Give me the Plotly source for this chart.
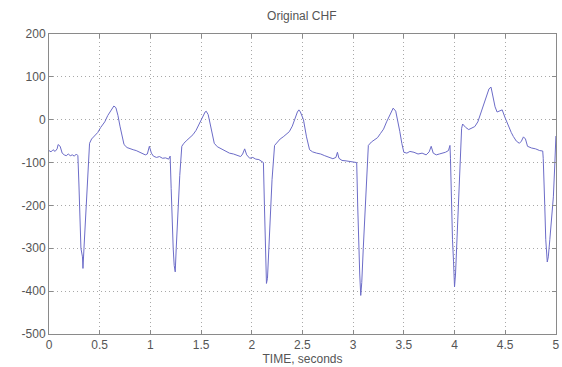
import plotly.graph_objects as go

# Time (s) and amplitude
time_s = [
    0.00, 0.02, 0.04, 0.06, 0.08, 0.09, 0.11, 0.13, 0.15, 0.17, 0.19, 0.21, 0.23, 0.25, 0.27, 0.285,
    0.295, 0.305, 0.315, 0.33, 0.335, 0.345, 0.355, 0.37, 0.385, 0.40, 0.42, 0.45, 0.48, 0.51, 0.55,
    0.58, 0.61, 0.64, 0.66, 0.68, 0.70, 0.72, 0.74, 0.77, 0.80, 0.83, 0.86, 0.89, 0.92, 0.95, 0.97,
    0.99, 1.01, 1.03, 1.06, 1.09, 1.12, 1.15, 1.18, 1.195, 1.205, 1.215, 1.225, 1.235, 1.245, 1.255,
    1.27, 1.29, 1.31, 1.33, 1.36, 1.39, 1.42, 1.45, 1.48, 1.51, 1.54, 1.55, 1.57, 1.59, 1.61, 1.63,
    1.66, 1.70, 1.74, 1.78, 1.82, 1.86, 1.89, 1.91, 1.93, 1.95, 1.98, 2.01, 2.04, 2.07, 2.10, 2.115,
    2.125, 2.135, 2.145, 2.155, 2.165, 2.18, 2.20, 2.225, 2.25, 2.28, 2.31, 2.34, 2.37, 2.40, 2.43,
    2.45, 2.465, 2.48, 2.51, 2.54, 2.57, 2.60, 2.64, 2.68, 2.72, 2.76, 2.80, 2.83, 2.845, 2.86, 2.89,
    2.93, 2.97, 3.01, 3.035, 3.045, 3.055, 3.065, 3.075, 3.085, 3.10, 3.12, 3.14, 3.15, 3.18, 3.21,
    3.24, 3.27, 3.30, 3.33, 3.36, 3.38, 3.395, 3.42, 3.44, 3.46, 3.48, 3.50, 3.53, 3.56, 3.60, 3.64,
    3.68, 3.72, 3.75, 3.77, 3.79, 3.82, 3.85, 3.88, 3.91, 3.94, 3.955, 3.96, 3.97, 3.98, 3.99, 4.00,
    4.01, 4.03, 4.05, 4.07, 4.08, 4.11, 4.14, 4.17, 4.20, 4.23, 4.26, 4.29, 4.32, 4.34, 4.36, 4.38,
    4.40, 4.42, 4.45, 4.47, 4.50, 4.53, 4.56, 4.58, 4.61, 4.64, 4.66, 4.68, 4.70, 4.72, 4.76, 4.80,
    4.84, 4.87, 4.875, 4.89, 4.90, 4.915, 4.925, 4.94, 4.96, 4.975, 4.99, 5.00,
]
amplitude = [
    -72, -75, -70, -74, -68, -58, -62, -78, -82, -84, -80, -84, -82, -85, -80, -84,
    -150, -240, -300, -320, -347, -300, -260, -200, -120, -55, -45, -38, -30, -18, -5,
    10, 22, 32, 28, 10, -15, -40, -58, -65, -68, -70, -72, -75, -78, -82, -80,
    -62, -78, -85, -88, -86, -90, -89, -92, -85, -160, -250, -300, -340, -355, -300,
    -220, -130, -62, -55, -48, -42, -35, -25, -10, 5, 18, 20, 12, -10, -35, -55,
    -63, -68, -72, -78, -80, -84, -86, -80, -68, -82, -90, -88, -92, -93, -99, -100,
    -200, -320, -382, -370, -320, -250, -140, -60, -52, -45, -40, -35, -28, -15, 5,
    18, 23, 18, 0, -40, -70, -75, -78, -80, -84, -87, -91, -88, -76, -90, -95,
    -96, -98, -99, -100, -200, -300, -360, -410, -380, -300, -200, -100, -60, -52, -46,
    -42, -32, -22, -5, 10, 22, 27, 20, 0, -27, -55, -76, -78, -74, -76, -80,
    -78, -82, -75, -62, -78, -82, -80, -78, -76, -72, -60, -90, -200, -280, -330, -390,
    -360, -250, -130, -20, -10, -18, -23, -20, -16, -5, 15, 40, 60, 72, 76, 55,
    30, 18, 22, 23, 4, -15, -30, -39, -50, -55, -50, -40, -45, -62, -66, -68,
    -72, -73, -90, -200, -280, -332, -320, -280, -220, -180, -100, -38,
]

x_ticks = [0, 0.5, 1, 1.5, 2, 2.5, 3, 3.5, 4, 4.5, 5]
x_tick_labels = ["0", "0.5", "1", "1.5", "2", "2.5", "3", "3.5", "4", "4.5", "5"]
y_ticks = [-500, -400, -300, -200, -100, 0, 100, 200]
y_tick_labels = ["-500", "-400", "-300", "-200", "-100", "0", "100", "200"]

FONT = "Liberation Sans, Arial, sans-serif"

fig = go.Figure()
fig.add_trace(go.Scatter(
    x=time_s, y=amplitude, mode="lines",
    line=dict(color="#6c6cc8", width=1),
    showlegend=False,
))

axis_common = dict(
    showline=True, linecolor="#8a8a8a", linewidth=1, mirror="ticks",
    ticks="inside", ticklen=4, tickcolor="#8a8a8a",
    showgrid=True, gridcolor="#a8a8a8", griddash="1px,3px", gridwidth=1,
    zeroline=False, automargin=False,
    tickfont=dict(family=FONT, size=12, color="#555555"),
)

fig.update_xaxes(
    range=[0, 5.001], tickvals=x_ticks, ticktext=x_tick_labels, ticklabeloverflow="allow",
    title=dict(text="TIME, seconds", standoff=0,
               font=dict(family=FONT, size=12, color="#555555")),
    **axis_common,
)
fig.update_yaxes(
    range=[-500, 200], tickvals=y_ticks, ticktext=y_tick_labels, ticklabeloverflow="allow",
    **axis_common,
)

fig.update_layout(
    width=562, height=367,
    margin=dict(l=49, r=6, t=34, b=33),
    paper_bgcolor="white", plot_bgcolor="white",
    title=dict(text="Original CHF", x=0.537, xanchor="center", y=0.957, yanchor="middle",
               font=dict(family=FONT, size=12, color="#555555")),
)

# Remove the default page margin so the figure fills the 562x367 window exactly.
fig.write_html(
    "out.html",
    config={"displayModeBar": False},
    post_script="document.body.style.margin='0';document.body.style.overflow='hidden';",
)
